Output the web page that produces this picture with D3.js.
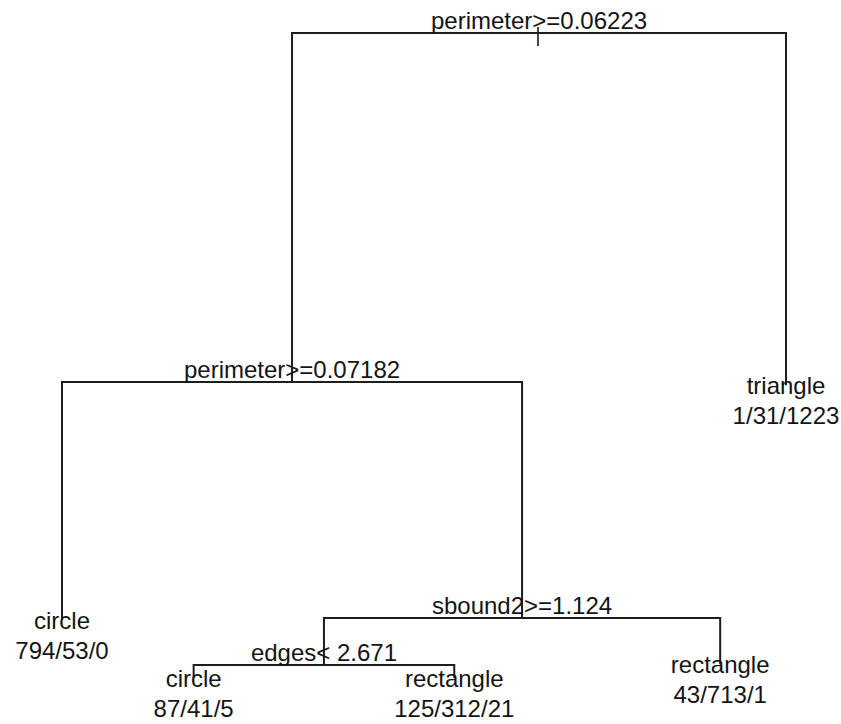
<!DOCTYPE html>
<html>
<head>
<meta charset="utf-8">
<script src="https://cdn.jsdelivr.net/npm/d3@7"></script>
<style>
  html, body { margin: 0; padding: 0; background: #fff; }
  svg { display: block; }
  text { font-family: "Liberation Sans", Arial, sans-serif; font-size: 24px; fill: #141414; }
</style>
</head>
<body>
<svg id="chart" width="841" height="724"></svg>
<script>
// Classification tree (rpart-style): split rules, leaf classes and class counts
const nodeIds     = ["n1", "n2", "n3", "n4", "n5", "n6", "n7", "n8", "n9"];
const nodeParents = [null, "n1", "n1", "n2", "n2", "n5", "n5", "n6", "n6"];
const nodeLabels  = ["perimeter>=0.06223", "perimeter>=0.07182", "triangle", "circle",
                     "sbound2>=1.124", "edges< 2.671", "rectangle", "circle", "rectangle"];
const nodeCounts  = [null, null, "1/31/1223", "794/53/0", null, null, "43/713/1", "87/41/5", "125/312/21"];
// Node heights (branch-length coordinate, root = 1, deepest leaves = 0)
const nodeHeights = [1, 0.459, 0.454, 0.090, 0.093, 0.020, 0.0215, 0, 0];
// Horizontal coordinates of the leaves; internal nodes sit midway between their children
const leafPositions = { n3: 6.5, n4: 1, n7: 6, n8: 2, n9: 3.98 };

const svg = d3.select("#chart");

const table = nodeIds.map((id, i) => ({
  id, parent: nodeParents[i], label: nodeLabels[i], counts: nodeCounts[i], h: nodeHeights[i]
}));
const root = d3.stratify().id(d => d.id).parentId(d => d.parent)(table);

const x = d3.scaleLinear().domain([1, 6.5]).range([62, 786]);
const y = d3.scaleLinear().domain([0, 1]).range([678, 33]);

// place nodes: leaves from their positions, parents at the midpoint of their children
root.eachAfter(n => {
  n.ux = n.children ? d3.mean(n.children, c => c.ux) : leafPositions[n.data.id];
  n.px = x(n.ux);
  n.py = y(n.data.h);
});

// branches: vertical drop from the parent's level to the child, joined horizontally
const g = svg.append("g");
g.selectAll("path.branch")
  .data(root.descendants().filter(n => n.parent))
  .join("path")
  .attr("class", "branch")
  .attr("fill", "none")
  .attr("stroke", "#1e1e1e")
  .attr("stroke-width", 2)
  .attr("d", n => `M${n.px},${n.py}V${n.parent.py}H${n.parent.px}`);

// root marker: short tick through the root node
g.append("line")
  .attr("x1", root.px - 1).attr("x2", root.px - 1)
  .attr("y1", root.py - 6).attr("y2", root.py + 13)
  .attr("stroke", "#2a1030")
  .attr("stroke-width", 1.6);

// split rules above each internal node
g.selectAll("text.split")
  .data(root.descendants().filter(n => n.children))
  .join("text")
  .attr("class", "split")
  .attr("x", n => n.px)
  .attr("y", n => n.py - 4)
  .attr("text-anchor", "middle")
  .text(n => n.data.label);

// leaf class and class counts below each leaf
const leaves = g.selectAll("g.leaf")
  .data(root.leaves())
  .join("g")
  .attr("class", "leaf");
leaves.append("text")
  .attr("x", n => n.px)
  .attr("y", n => n.py + 9)
  .attr("text-anchor", "middle")
  .text(n => n.data.label);
leaves.append("text")
  .attr("x", n => n.px)
  .attr("y", n => n.py + 39)
  .attr("text-anchor", "middle")
  .text(n => n.data.counts);
</script>
</body>
</html>
